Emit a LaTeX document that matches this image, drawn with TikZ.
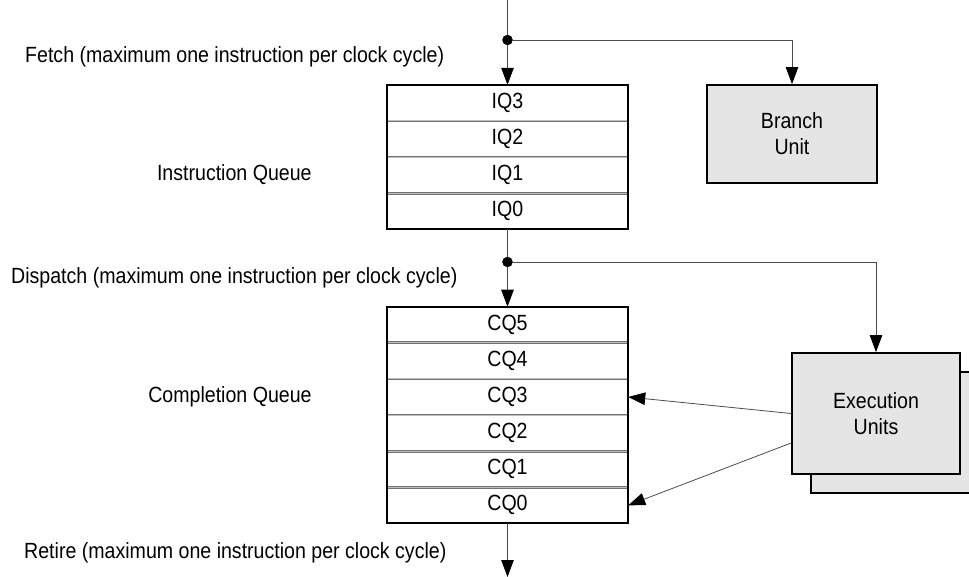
\documentclass[tikz,border=0pt]{standalone}
\usepackage{fontspec}
\setmainfont{Liberation Sans}[FakeStretch=0.89]
\usepackage{tikz}
\usetikzlibrary{arrows.meta,positioning,calc}
\tikzstyle{slot} = [rectangle, inner sep=0pt,
minimum width=241pt, minimum height=35.7pt]
\tikzstyle{frame} = [draw, line width=1.8pt]
\tikzstyle{divider} = [draw=black!55, double=black!25, double distance=1pt, line width=0.9pt]
\tikzstyle{unit} = [draw, fill=black!10, rectangle, line width=1.8pt, align=center]
\tikzstyle{caption} = [inner sep=0pt]
\tikzstyle{wire} = [draw=black!70, line width=0.8pt]
\tikzstyle{junction} = [draw, fill=black, circle, inner sep=0pt, minimum size=10pt]

\begin{document}
\begin{tikzpicture}[x=1pt, y=-1pt, font=\fontsize{22}{26}\selectfont,
	>={Triangle[length=17pt, width=12.5pt, color=black]}]
	\clip (0,0) rectangle (969,577);
	
	% instruction queue
	\node [slot] (IQ3) at (507.5,102.9) {IQ3};
	\node [slot, below=0pt of IQ3] (IQ2) {IQ2};
	\node [slot, below=0pt of IQ2] (IQ1) {IQ1};
	\node [slot, below=0pt of IQ1] (IQ0) {IQ0};
	\draw [divider] (IQ3.south west) -- (IQ3.south east);
	\draw [divider] (IQ2.south west) -- (IQ2.south east);
	\draw [divider] (IQ1.south west) -- (IQ1.south east);
	\draw [frame] (IQ3.north west) rectangle (IQ0.south east);
	
	% completion queue
	\node [slot] (CQ5) at (507.5,324.8) {CQ5};
	\node [slot, below=0pt of CQ5] (CQ4) {CQ4};
	\node [slot, below=0pt of CQ4] (CQ3) {CQ3};
	\node [slot, below=0pt of CQ3] (CQ2) {CQ2};
	\node [slot, below=0pt of CQ2] (CQ1) {CQ1};
	\node [slot, below=0pt of CQ1] (CQ0) {CQ0};
	\draw [divider] (CQ5.south west) -- (CQ5.south east);
	\draw [divider] (CQ4.south west) -- (CQ4.south east);
	\draw [divider] (CQ3.south west) -- (CQ3.south east);
	\draw [divider] (CQ2.south west) -- (CQ2.south east);
	\draw [divider] (CQ1.south west) -- (CQ1.south east);
	\draw [frame] (CQ5.north west) rectangle (CQ0.south east);
	
	\node [unit, minimum width=170pt, minimum height=98pt] (Branch) at (792,134) {Branch\\Unit};
	\node [unit, minimum width=168pt, minimum height=121pt] (ExecBack) at (895,432.5) {};
	\node [unit, minimum width=168pt, minimum height=121pt] (Exec) at (876,413.5) {Execution\\Units};
	
	\node [caption, anchor=base west] (FetchLabel) at (25,63) {Fetch (maximum one instruction per clock cycle)};
	\node [caption, left=75pt of IQ1] (IQLabel) {Instruction Queue};
	\node [caption, anchor=base west] (DispatchLabel) at (11,284) {Dispatch (maximum one instruction per clock cycle)};
	\node [caption, left=75pt of CQ3] (CQLabel) {Completion Queue};
	\node [caption, anchor=base west] (RetireLabel) at (24,558) {Retire (maximum one instruction per clock cycle)};
	
	\coordinate (FetchIn) at (507.5,0);
	\node [junction] (FetchDot) at (507.5,40) {};
	\node [junction] (DispatchDot) at (507.5,262) {};
	\coordinate (ExecLow) at ($(Exec.west)+(0,29.5)$);
	\coordinate (RetireOut) at (507.5,577);
	
	\draw [wire] (FetchIn) -- (FetchDot);
	\draw [wire, ->] (FetchDot) -- (IQ3.north);
	\draw [wire, ->] (FetchDot) -| (Branch.north);
	\draw [wire] (IQ0.south) -- (DispatchDot);
	\draw [wire, ->] (DispatchDot) -- (CQ5.north);
	\draw [wire, ->] (DispatchDot) -| (Exec.north);
	\draw [wire, ->] (Exec.west) -- (CQ3.east);
	\draw [wire, ->] (ExecLow) -- (CQ0.east);
	\draw [wire, ->] (CQ0.south) -- (RetireOut);
	
\end{tikzpicture}
\end{document}
